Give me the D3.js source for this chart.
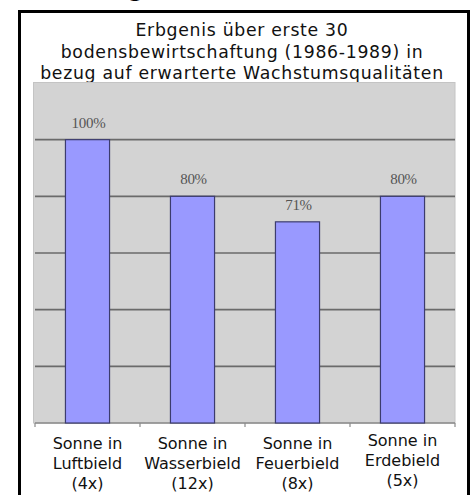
<!DOCTYPE html>
<html>
<head>
<meta charset="utf-8">
<script src="https://cdn.jsdelivr.net/npm/d3@7"></script>
<style>
    body { margin: 0; background: #fff; }
    svg { display: block; }
</style>
</head>
<body>
<div id="chart"></div>
<script>
const categories = [
    ['Sonne in', 'Luftbield', '(4x)'],
    ['Sonne in', 'Wasserbield', '(12x)'],
    ['Sonne in', 'Feuerbield', '(8x)'],
    ['Sonne in', 'Erdebield', '(5x)']
];
const values = [100, 80, 71, 80];
const yTicks = [0, 20, 40, 60, 80, 100, 120];
const titleLines = [
    'Erbgenis über erste 30',
    'bodensbewirtschaftung (1986-1989) in',
    'bezug auf erwarterte Wachstumsqualitäten'
];
const heading = 'Ergebnisse';

const wSvg = 473, hSvg = 495;
const plotLeft = 35, plotRight = 455, plotTop = 83, plotBottom = 423;

const svg = d3.select('#chart')
    .append('svg')
    .attr('width', wSvg)
    .attr('height', hSvg);

// cut-off heading above the frame (only the descender of the g shows)
svg.append('text')
    .attr('x', 102)
    .attr('y', -3)
    .attr('font-family', 'DejaVu Sans, Verdana, sans-serif')
    .attr('font-weight', 'bold')
    .attr('font-size', 22)
    .attr('fill', '#000')
    .text(heading);

// outer frame
svg.append('rect')
    .attr('x', 19.5)
    .attr('y', 11.5)
    .attr('width', 449)
    .attr('height', 500)
    .attr('fill', '#fff')
    .attr('stroke', '#000')
    .attr('stroke-width', 3);

// title
svg.append('g')
    .selectAll('text')
    .data(titleLines)
    .enter()
    .append('text')
    .attr('x', 242)
    .attr('y', (d, i) => 36 + i * 21.5)
    .attr('text-anchor', 'middle')
    .attr('font-family', 'DejaVu Sans, Verdana, sans-serif')
    .attr('font-size', 17.3)
    .attr('letter-spacing', 0.7)
    .attr('fill', '#111')
    .text(d => d);

const xScale = d3.scaleBand()
    .domain(d3.range(values.length))
    .range([plotLeft, plotRight])
    .paddingInner(0.58)
    .paddingOuter(0.29);

const yScale = d3.scaleLinear()
    .domain([0, 120])
    .range([plotBottom, plotTop]);

// plot background
svg.append('rect')
    .attr('x', plotLeft - 1.5)
    .attr('y', plotTop - 0.5)
    .attr('width', plotRight - plotLeft + 1.5)
    .attr('height', plotBottom - plotTop + 0.5)
    .attr('fill', '#d3d3d3')
    .attr('stroke', '#c4c4c4')
    .attr('stroke-width', 1);

// gridlines
svg.append('g')
    .selectAll('line')
    .data(yTicks.filter(t => t > 0 && t < 120))
    .enter()
    .append('line')
    .attr('x1', plotLeft)
    .attr('x2', plotRight)
    .attr('y1', d => yScale(d))
    .attr('y2', d => yScale(d))
    .attr('stroke', '#6a6a6a')
    .attr('stroke-width', 1.6);

// x axis baseline with ticks between categories
const xAx = svg.append('g')
    .attr('transform', `translate(0, ${plotBottom})`);
xAx.append('line')
    .attr('x1', plotLeft)
    .attr('x2', plotRight)
    .attr('stroke', '#8a8a8a')
    .attr('stroke-width', 1.5);
xAx.selectAll('.tick')
    .data(d3.range(values.length + 1))
    .enter()
    .append('line')
    .attr('x1', i => plotLeft + i * xScale.step())
    .attr('x2', i => plotLeft + i * xScale.step())
    .attr('y1', 0)
    .attr('y2', 4)
    .attr('stroke', '#8a8a8a')
    .attr('stroke-width', 1.2);

// bars
svg.append('g')
    .selectAll('rect')
    .data(values)
    .enter()
    .append('rect')
    .attr('x', (d, i) => xScale(i))
    .attr('y', d => yScale(d))
    .attr('width', xScale.bandwidth())
    .attr('height', d => plotBottom - yScale(d))
    .attr('fill', '#9999ff')
    .attr('stroke', '#3c3c6e')
    .attr('stroke-width', 1.2);

// value labels
svg.append('g')
    .selectAll('text')
    .data(values)
    .enter()
    .append('text')
    .attr('x', (d, i) => xScale(i) + xScale.bandwidth() / 2 + 1)
    .attr('y', d => yScale(d) - 12)
    .attr('text-anchor', 'middle')
    .attr('font-family', 'Liberation Serif, Times New Roman, serif')
    .attr('font-size', 15)
    .attr('letter-spacing', -0.3)
    .attr('fill', '#555')
    .text(d => d + '%');

// category labels
const gLabels = svg.append('g');
categories.forEach((lines, i) => {
    gLabels.append('text')
        .attr('text-anchor', 'middle')
        .attr('font-family', 'DejaVu Sans, Verdana, sans-serif')
        .attr('font-size', 16)
        .attr('fill', '#111')
        .selectAll('tspan')
        .data(lines)
        .enter()
        .append('tspan')
        .attr('x', xScale(i) + xScale.bandwidth() / 2)
        .attr('y', (d, j) => (i === 3 ? 446 : 449) + j * 20)
        .text(d => d);
});
</script>
</body>
</html>
